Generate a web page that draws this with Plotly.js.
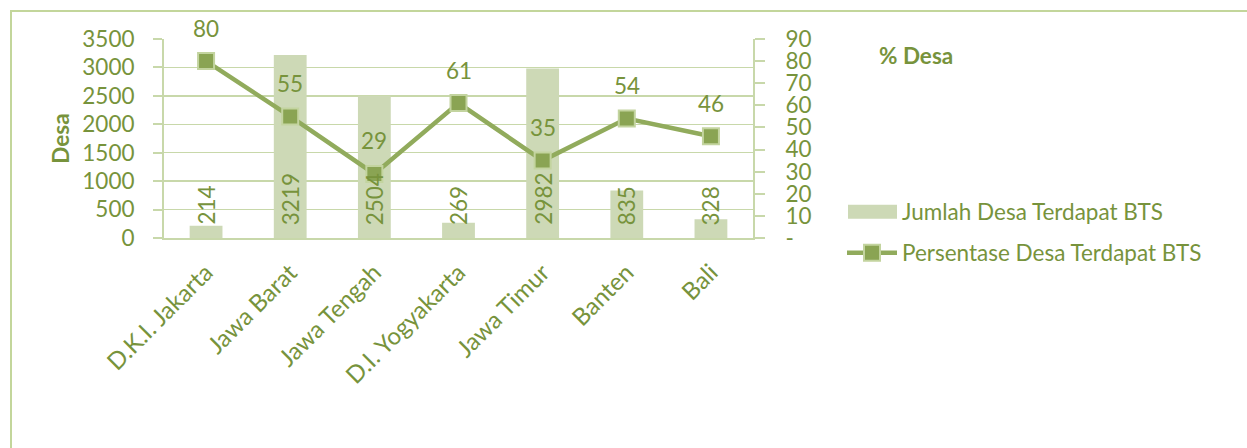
<!DOCTYPE html>
<html>
<head>
<meta charset="utf-8">
<script src="https://cdn.plot.ly/plotly-3.0.1.min.js"></script>
<style>
html,body{margin:0;padding:0;background:#fff;}
#chart{width:1247px;height:448px;}
</style>
</head>
<body>
<div id="chart"></div>
<script>
var categories = ['D.K.I. Jakarta', 'Jawa Barat', 'Jawa Tengah', 'D.I. Yogyakarta', 'Jawa Timur', 'Banten', 'Bali'];
var jumlahDesa = [214, 3219, 2504, 269, 2982, 835, 328];
var persenDesa = [80, 55, 29, 61, 35, 54, 46];
var leftTicks = [0, 500, 1000, 1500, 2000, 2500, 3000, 3500];
var rightTickVals = [0, 10, 20, 30, 40, 50, 60, 70, 80, 90];
var rightTickText = ['-', '10', '20', '30', '40', '50', '60', '70', '80', '90'];
var seriesNames = ['Jumlah Desa Terdapat BTS', 'Persentase Desa Terdapat BTS'];

var TXT = '#77933c';
var GRID = '#c8d8aa';
var FONT = 'Lato, "Open Sans", sans-serif';
var FS = 22.5;

var bars = {
  type: 'bar', x: categories, y: jumlahDesa, name: seriesNames[0],
  width: 0.39, marker: {color: '#cdd9b6'}, yaxis: 'y', legend: 'legend',
  hoverinfo: 'skip'
};
var line = {
  type: 'scatter', mode: 'lines+markers', x: categories, y: persenDesa, name: seriesNames[1],
  yaxis: 'y2', legend: 'legend2',
  line: {color: '#91ab5c', width: 4.5},
  marker: {symbol: 'square', size: 16, color: '#8aa453', line: {color: '#c3d49f', width: 2}},
  hoverinfo: 'skip'
};

var annotations = [];
categories.forEach(function (c, i) {
  annotations.push({
    x: c, y: 0, xref: 'x', yref: 'y', text: String(jumlahDesa[i]), textangle: -90,
    yanchor: 'bottom', xanchor: 'center', yshift: 11, showarrow: false,
    font: {family: FONT, size: FS, color: TXT}
  });
  annotations.push({
    x: c, y: persenDesa[i], xref: 'x', yref: 'y2', text: String(persenDesa[i]),
    yanchor: 'middle', xanchor: 'center', yshift: 33, showarrow: false,
    font: {family: FONT, size: FS, color: TXT}
  });
});
annotations.push({
  xref: 'paper', yref: 'paper', x: (877 - 164) / 589, y: (238 - 55) / 199,
  xanchor: 'left', yanchor: 'middle', text: '<b>% Desa</b>', showarrow: false,
  font: {family: FONT, size: FS, color: TXT}
});

var layout = {
  width: 1247, height: 448,
  margin: {l: 164, r: 494, t: 39, b: 210},
  paper_bgcolor: '#ffffff', plot_bgcolor: 'rgba(0,0,0,0)',
  font: {family: FONT, size: FS, color: TXT},
  showlegend: true,
  xaxis: {
    type: 'category', showline: true, linecolor: GRID, linewidth: 2,
    ticks: '', tickangle: -45, tickfont: {family: FONT, size: 24, color: TXT},
    showgrid: false, zeroline: false, ticklabelstandoff: 9
  },
  yaxis: {
    range: [0, 3500], tickvals: leftTicks, showline: true, linecolor: GRID, linewidth: 2,
    ticks: 'outside', ticklen: 9, tickcolor: GRID, tickwidth: 2,
    showgrid: true, gridcolor: GRID, gridwidth: 1.5, zeroline: false,
    tickfont: {family: FONT, size: FS, color: TXT}, ticklabelstandoff: 14,
    title: {text: '<b>Desa</b>', font: {family: FONT, size: FS, color: TXT}, standoff: 6}
  },
  yaxis2: {
    range: [0, 90], overlaying: 'y', side: 'right', tickvals: rightTickVals, ticktext: rightTickText,
    showline: true, linecolor: GRID, linewidth: 2, ticks: 'outside', ticklen: 10, tickcolor: GRID, tickwidth: 2,
    showgrid: false, zeroline: false, tickfont: {family: FONT, size: FS, color: TXT}, ticklabelstandoff: 16
  },
  legend: {
    x: (842 - 164) / 589, y: (238 - 212) / 199, xanchor: 'left', yanchor: 'middle',
    font: {family: FONT, size: FS, color: TXT}, itemwidth: 50, bgcolor: 'rgba(0,0,0,0)'
  },
  legend2: {
    x: (842 - 164) / 589, y: (238 - 253) / 199, xanchor: 'left', yanchor: 'middle',
    font: {family: FONT, size: FS, color: TXT}, itemwidth: 50, bgcolor: 'rgba(0,0,0,0)'
  },
  shapes: [{
    type: 'rect', xref: 'paper', yref: 'paper', layer: 'below',
    x0: (11 - 164) / 589, x1: 3, y0: -3, y1: (238 - 11) / 199,
    line: {color: '#c3d69b', width: 2}, fillcolor: 'rgba(0,0,0,0)'
  }],
  annotations: annotations
};

function widenBarSwatch(gd) {
  var paths = gd.querySelectorAll('g.legendpoints path');
  paths.forEach(function (p) {
    var d = (p.getAttribute('d') || '').replace(/\s/g, '');
    if (d === 'M6,6H-6V-6H6Z') {
      p.setAttribute('d', 'M25,7H-24V-7H25Z');
    }
  });
}

Plotly.newPlot('chart', [bars, line], layout, {displayModeBar: false, staticPlot: true}).then(function (gd) {
  widenBarSwatch(gd);
});
</script>
</body>
</html>
